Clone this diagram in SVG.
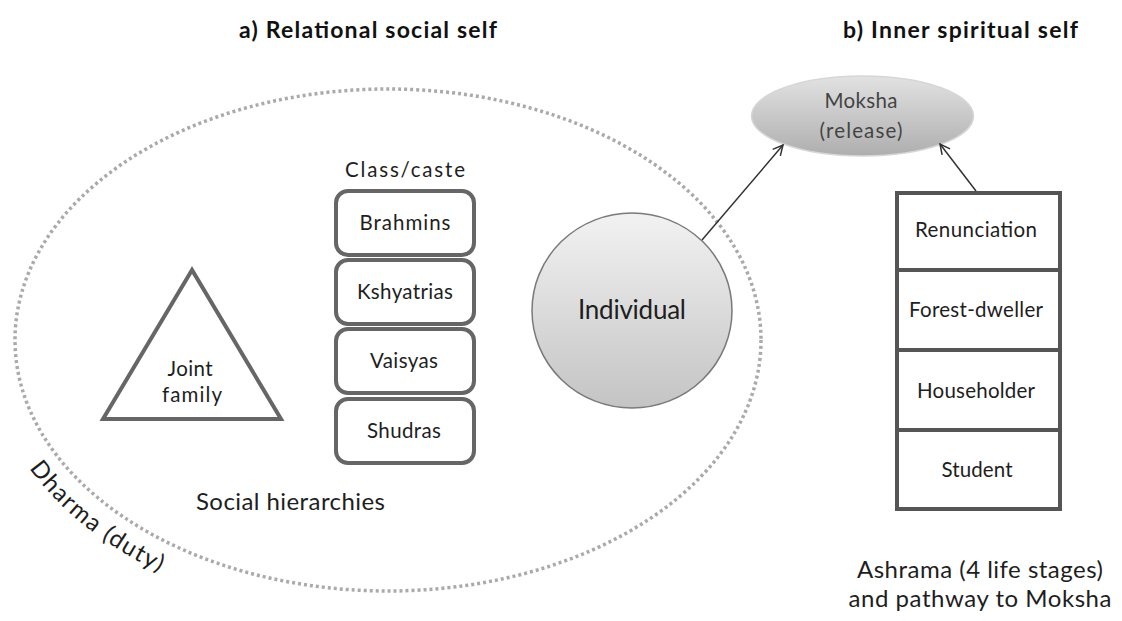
<svg xmlns="http://www.w3.org/2000/svg" width="1122" height="621" viewBox="0 0 1122 621">
  <style>
    text { font-family: Lato, "Open Sans", "Liberation Sans", sans-serif; fill: #1e1e1e; }
    .title { font-size: 23px; font-weight: bold; fill: #111; }
    .lbl { font-size: 20.5px; text-anchor: middle; }
    .big { font-size: 24px; }
    .moksha { font-size: 20.5px; text-anchor: middle; fill: #444; }
    .caste { fill: #fff; stroke: #666; stroke-width: 4; }
    .stage { fill: #fff; stroke: #555; stroke-width: 4; }
    .conn { stroke: #333; stroke-width: 1.5; fill: none; marker-end: url(#open); }
  </style>
  <defs>
    <marker id="open" viewBox="0 0 12 12" markerWidth="12" markerHeight="12" refX="11" refY="6" orient="auto" markerUnits="userSpaceOnUse">
      <path d="M1,1 L11,6 L1,11" fill="none" stroke="#333" stroke-width="1.5"/>
    </marker>
    <linearGradient id="gIndiv" x1="0" y1="0" x2="0" y2="1">
      <stop offset="0" stop-color="#f2f2f2"/>
      <stop offset="1" stop-color="#c4c4c4"/>
    </linearGradient>
    <linearGradient id="gMoksha" x1="0" y1="0" x2="0" y2="1">
      <stop offset="0" stop-color="#e2e2e2"/>
      <stop offset="1" stop-color="#aeaeae"/>
    </linearGradient>
    <path id="dharmaArc" d="M -15,340 A 403 282 0 0 0 388 622"/>
  </defs>

  <!-- headings -->
  <text class="title" x="239" y="38" textLength="258">a) Relational social self</text>
  <text class="title" x="843" y="38" textLength="235">b) Inner spiritual self</text>

  <!-- Dharma boundary -->
  <g id="dharma">
    <ellipse cx="388" cy="340" rx="373" ry="251" fill="none" stroke="#aaa" stroke-width="3.5" stroke-dasharray="3 3"/>
    <text class="big" textLength="168"><textPath href="#dharmaArc" startOffset="138">Dharma (duty)</textPath></text>
  </g>

  <!-- joint family -->
  <g id="joint-family">
    <polygon points="192,270 103,419 281,419" fill="#fff" stroke="#666" stroke-width="4" stroke-linejoin="miter"/>
    <text class="lbl" x="190" y="376" textLength="45">Joint</text>
    <text class="lbl" x="192" y="402" textLength="60">family</text>
  </g>

  <!-- class / caste ladder -->
  <g id="class-caste">
    <text class="lbl" x="405" y="177" textLength="120">Class/caste</text>
  </g>
  <g id="brahmins">
    <rect class="caste" x="336" y="191" width="138" height="64" rx="12"/>
    <text class="lbl" x="405" y="230" textLength="91">Brahmins</text>
  </g>
  <g id="kshyatrias">
    <rect class="caste" x="336" y="260" width="138" height="64" rx="12"/>
    <text class="lbl" x="405" y="299" textLength="96">Kshyatrias</text>
  </g>
  <g id="vaisyas">
    <rect class="caste" x="336" y="329" width="138" height="64" rx="12"/>
    <text class="lbl" x="404" y="368" textLength="68">Vaisyas</text>
  </g>
  <g id="shudras">
    <rect class="caste" x="336" y="399" width="138" height="64" rx="12"/>
    <text class="lbl" x="404" y="438" textLength="74">Shudras</text>
  </g>
  <g id="social-hierarchies">
    <text class="big" x="196" y="510" textLength="189">Social hierarchies</text>
  </g>

  <!-- individual -->
  <g id="individual">
    <ellipse cx="632" cy="310.5" rx="100" ry="97.5" fill="url(#gIndiv)" stroke="#7a7a7a" stroke-width="1.5"/>
    <text x="632" y="319" font-size="26" text-anchor="middle" textLength="108">Individual</text>
  </g>

  <!-- moksha -->
  <g id="moksha">
    <ellipse cx="862.5" cy="116" rx="111" ry="40" fill="url(#gMoksha)" stroke="#d6d6d6" stroke-width="1.5"/>
    <text class="moksha" x="861" y="108" textLength="73">Moksha</text>
    <text class="moksha" x="861" y="138" textLength="83">(release)</text>
  </g>

  <!-- ashrama stages -->
  <g id="ashrama">
    <rect class="stage" x="897" y="193" width="163" height="316"/>
    <line x1="897" y1="270" x2="1060" y2="270" stroke="#555" stroke-width="4"/>
    <line x1="897" y1="350" x2="1060" y2="350" stroke="#555" stroke-width="4"/>
    <line x1="897" y1="430" x2="1060" y2="430" stroke="#555" stroke-width="4"/>
  </g>
  <g id="renunciation"><text class="lbl" x="976" y="237" textLength="122">Renunciation</text></g>
  <g id="forest-dweller"><text class="lbl" x="976" y="317" textLength="134">Forest-dweller</text></g>
  <g id="householder"><text class="lbl" x="976" y="398" textLength="118">Householder</text></g>
  <g id="student"><text class="lbl" x="977" y="477" textLength="71">Student</text></g>
  <g id="ashrama-caption">
    <text class="big" x="980" y="578" text-anchor="middle" textLength="246">Ashrama (4 life stages)</text>
    <text class="big" x="980" y="607" text-anchor="middle" textLength="263">and pathway to Moksha</text>
  </g>

  <!-- connectors -->
  <g id="connectors">
    <line class="conn" x1="702" y1="240" x2="783" y2="145"/>
    <line class="conn" x1="976" y1="191" x2="940" y2="144"/>
  </g>
</svg>
